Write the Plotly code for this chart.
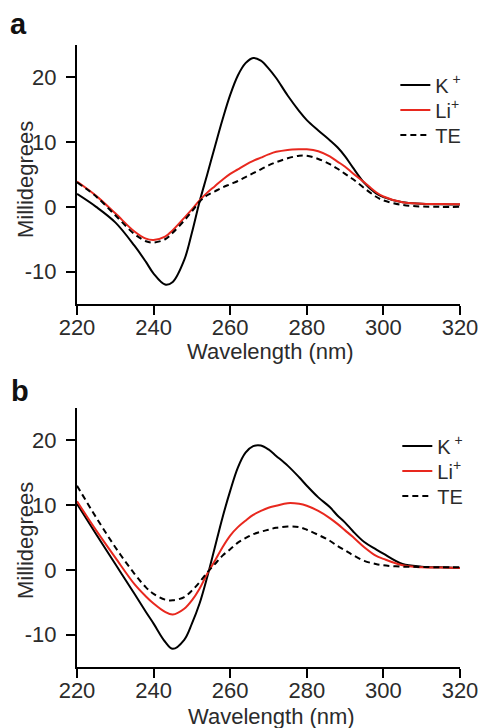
import plotly.graph_objects as go

# ---- data ----
wavelength = [220, 225, 230, 235, 238, 240, 243, 245, 248, 250, 252, 254, 256, 258, 260,
              262, 264, 266, 268, 270, 272, 275, 278, 280, 283, 286, 288, 290, 292, 295,
              298, 300, 305, 310, 315, 320]

a_k = [2.0, 0.0, -2.4, -6.0, -8.5, -10.3, -12.0, -11.6, -8.2, -4.0, 0.8, 5.0, 9.3, 13.5, 17.3,
       20.3, 22.2, 23.0, 22.6, 21.4, 19.9, 17.2, 14.8, 13.4, 11.8, 10.3, 9.2, 7.8, 6.1, 3.7,
       2.1, 1.5, 0.7, 0.5, 0.4, 0.35]
a_li = [3.9, 1.7, -1.0, -3.8, -4.9, -5.1, -4.6, -3.6, -1.7, -0.4, 1.0, 2.2, 3.2, 4.2, 5.1,
        5.8, 6.5, 7.1, 7.6, 8.1, 8.5, 8.8, 8.9, 8.9, 8.6, 7.8, 7.0, 6.2, 5.2, 3.8,
        2.3, 1.6, 0.7, 0.5, 0.45, 0.4]
a_te = [3.8, 1.6, -1.3, -4.2, -5.3, -5.5, -5.0, -4.0, -2.1, -0.7, 0.8, 1.8, 2.4, 3.0, 3.5,
        4.0, 4.6, 5.2, 5.8, 6.4, 6.9, 7.5, 7.9, 7.9, 7.4, 6.6, 5.9, 5.1, 4.3, 2.9,
        1.6, 1.0, 0.3, 0.05, 0.0, 0.0]

b_k = [10.2, 5.5, 0.9, -3.7, -6.5, -8.3, -11.1, -12.2, -10.8, -8.3, -5.2, -1.1, 3.5, 8.1, 12.2,
       15.8, 18.1, 19.1, 19.2, 18.6, 17.6, 16.1, 14.3, 13.0, 11.2, 9.7, 8.4, 7.3, 6.0, 4.3,
       3.2, 2.5, 0.9, 0.5, 0.4, 0.3]
b_li = [10.6, 6.1, 1.9, -2.2, -4.1, -5.2, -6.5, -6.9, -6.0, -4.7, -2.9, -0.6, 1.4, 3.5, 5.3,
        6.6, 7.6, 8.5, 9.1, 9.6, 9.9, 10.3, 10.2, 9.9, 9.1, 8.0, 7.1, 6.1, 5.1, 3.5,
        2.2, 1.7, 0.7, 0.4, 0.35, 0.3]
b_te = [13.0, 8.1, 3.5, -0.6, -2.7, -3.7, -4.6, -4.7, -4.2, -3.2, -1.9, -0.4, 0.9, 2.2, 3.2,
        4.2, 4.9, 5.5, 5.9, 6.2, 6.5, 6.7, 6.6, 6.2, 5.4, 4.5, 3.7, 3.0, 2.3, 1.4,
        0.9, 0.7, 0.5, 0.45, 0.4, 0.4]

series_names = ["K<sup> +</sup>", "Li<sup>+</sup>", "TE"]
x_ticks = [220, 240, 260, 280, 300, 320]
y_ticks = [-10, 0, 10, 20]
y_ticktext = ["-10", "0", "10", "20"]
panel_labels = ["a", "b"]

FONT = "Liberation Sans, Arial, sans-serif"
TXT = "#2b2b2b"
RED = "#e8281e"

# page body has an 8px margin: figure drawn in window pixels offset by 8
OFF = 8
W, H = 490 - OFF, 728 - OFF
L, R, T, B = 77 - OFF, 22, 45 - OFF, 61
PW, PH = W - L - R, H - T - B


def py(p):  # p = window pixel (reference coordinates)
    return (H - B - (p - OFF)) / PH


def px(p):
    return (p - OFF - L) / PW


fig = go.Figure()

colors = ["black", RED, "black"]
dashes = ["solid", "solid", "6px,4px"]
panels = [((a_k, a_li, a_te), "x", "y", ["legend", "legend2", "legend3"]),
          ((b_k, b_li, b_te), "x2", "y2", ["legend4", "legend5", "legend6"])]
for ys, xa, ya, lgs in panels:
    for yv, name, col, dsh, lg in zip(ys, series_names, colors, dashes, lgs):
        fig.add_trace(go.Scatter(x=wavelength, y=yv, name=name, mode="lines",
                                 line=dict(color=col, width=2, dash=dsh, shape="spline", smoothing=1.0),
                                 xaxis=xa, yaxis=ya, legend=lg))

axis_common = dict(showline=True, linecolor="black", linewidth=2, ticks="outside",
                   ticklen=9, tickwidth=2, tickcolor="black", showgrid=False, zeroline=False,
                   tickfont=dict(family=FONT, size=22, color=TXT), mirror=False)
xcommon = dict(range=[220, 320], tickvals=x_ticks, ticklabelstandoff=-6, domain=[0, 1], **axis_common)
ycommon = dict(range=[-15, 25], tickvals=y_ticks, ticktext=y_ticktext, ticklabelstandoff=5, **axis_common)

layout = dict(
    width=W, height=H,
    margin=dict(l=L, r=R, t=T, b=B),
    paper_bgcolor="white", plot_bgcolor="white",
    font=dict(family=FONT, size=22, color=TXT),
    xaxis=dict(anchor="y", **xcommon),
    yaxis=dict(domain=[py(304), 1], anchor="x", **ycommon),
    xaxis2=dict(anchor="y2", **xcommon),
    yaxis2=dict(domain=[0, py(408)], anchor="x2", **ycommon),
    showlegend=True,
)

legend_rows = [(402, 85), (402, 110), (402, 135), (404, 446), (404, 471), (404, 496)]
for i, (lx, ly) in enumerate(legend_rows):
    key = "legend" if i == 0 else "legend%d" % (i + 1)
    layout[key] = dict(x=px(lx), y=py(ly), xanchor="left", yanchor="middle",
                       bgcolor="rgba(0,0,0,0)", font=dict(family=FONT, size=20, color=TXT))

fig.update_layout(**layout)

annotations = [
    dict(text="Millidegrees", x=px(24), y=py(180), textangle=-90),
    dict(text="Millidegrees", x=px(24), y=py(541), textangle=-90),
    dict(text="Wavelength (nm)", x=px(275), y=py(351)),
    dict(text="Wavelength (nm)", x=px(276), y=py(716)),
]
for a in annotations:
    a.update(xref="paper", yref="paper", showarrow=False, xanchor="center", yanchor="middle",
             font=dict(family=FONT, size=22, color=TXT))
    fig.add_annotation(**a)

for lab, (cx, cy) in zip(panel_labels, [(17, 24), (19, 391)]):
    fig.add_annotation(text="<b>%s</b>" % lab, x=px(cx), y=py(cy), xref="paper", yref="paper",
                       showarrow=False, xanchor="center", yanchor="middle",
                       font=dict(family=FONT, size=29, color="#111111"))

fig.write_html("out.html")
